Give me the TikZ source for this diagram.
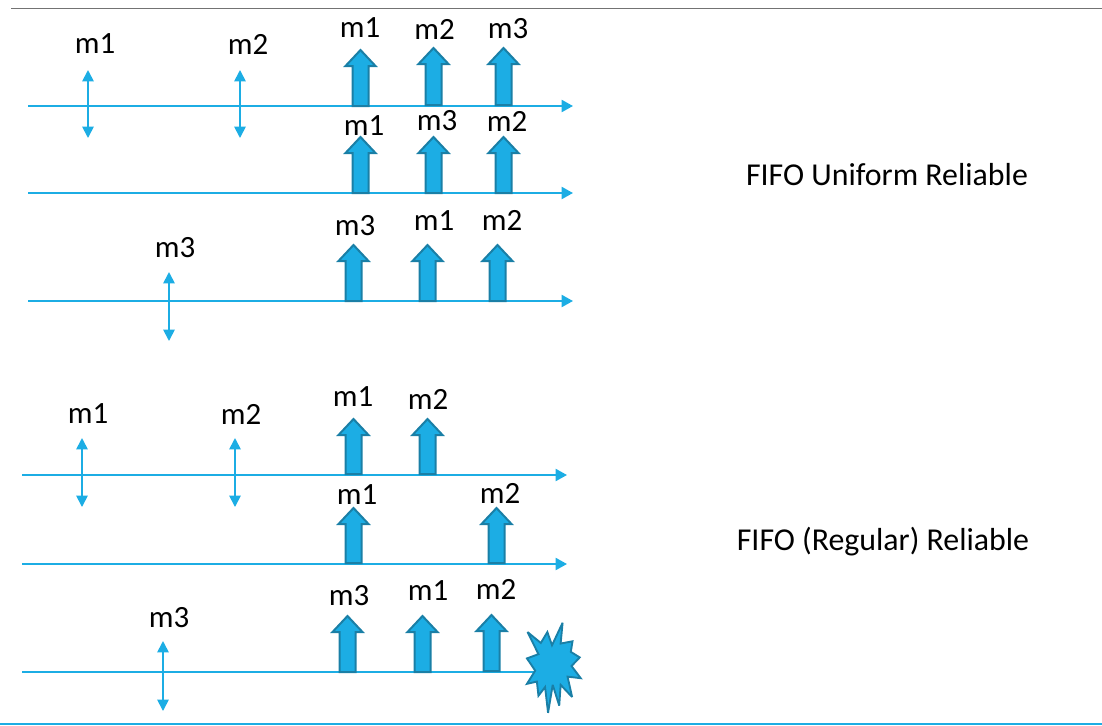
\documentclass[tikz,border=0pt]{standalone}
\usepackage{fontspec}
\setmainfont{Carlito}
\usetikzlibrary{arrows.meta}
\definecolor{cyanb}{HTML}{1CADE4}
\definecolor{cyand}{HTML}{1A7FA6}
\tikzset{
  lbl/.style={inner sep=0pt,font=\fontsize{23.2pt}{26pt}\selectfont,text=black},
  big/.style={inner sep=0pt,font=\fontsize{23.9pt}{26pt}\selectfont,text=black},
  axis/.style={draw=cyanb,line width=1.5pt,-{Triangle[length=8.5pt,width=9pt]}},
  axisplain/.style={draw=cyanb,line width=1.5pt},
  dbl/.style={draw=cyanb,line width=1.3pt,{Triangle[length=8.5pt,width=8.5pt]}-{Triangle[length=8.5pt,width=8.5pt]}},
  fat/.style={draw=cyand,fill=cyanb,line width=1.5pt,line join=miter},
  burst/.style={draw=cyand,fill=cyanb,line width=1.4pt,line join=miter,miter limit=3},
}
% centre x, tip y, base y
\newcommand{\fatarrow}[3]{%
  \draw[fat] (#1-8,#3) -- (#1-8,#2+17) -- (#1-15,#2+17) -- (#1,#2+1) -- (#1+15,#2+17) -- (#1+8,#2+17) -- (#1+8,#3) -- cycle;}
\begin{document}
\begin{tikzpicture}[x=0.75pt,y=-0.75pt]
\useasboundingbox (0,0) rectangle (1102,725);
% frame rules
\coordinate (tl) at (11,8.5); \coordinate (tr) at (1102,8.5);
\coordinate (bl) at (0,724); \coordinate (br) at (1102,724);
\draw[draw=black!55,line width=0.9pt] (tl) -- (tr);
\draw[draw=cyanb,line width=1.5pt] (bl) -- (br);
% timelines
\coordinate (a1s) at (28,106); \coordinate (a1e) at (573,106);
\coordinate (a2s) at (28,193); \coordinate (a2e) at (573,193);
\coordinate (a3s) at (28,301); \coordinate (a3e) at (573,301);
\coordinate (a4s) at (22,475); \coordinate (a4e) at (567,475);
\coordinate (a5s) at (22,564); \coordinate (a5e) at (567,564);
\coordinate (a6s) at (22,672); \coordinate (a6e) at (540,672);
\draw[axis] (a1s) -- (a1e);
\draw[axis] (a2s) -- (a2e);
\draw[axis] (a3s) -- (a3e);
\draw[axis] (a4s) -- (a4e);
\draw[axis] (a5s) -- (a5e);
\draw[axisplain] (a6s) -- (a6e);
% double arrows
\coordinate (d1t) at (88,70); \coordinate (d1b) at (88,138);
\coordinate (d2t) at (240,70); \coordinate (d2b) at (240,138);
\coordinate (d3t) at (169,272); \coordinate (d3b) at (169,341);
\coordinate (d4t) at (82,438); \coordinate (d4b) at (82,507);
\coordinate (d5t) at (235,438); \coordinate (d5b) at (235,507);
\coordinate (d6t) at (163,641); \coordinate (d6b) at (163,711);
\foreach \n in {1,...,6} \draw[dbl] (d\n t) -- (d\n b);
% fat arrows
\fatarrow{360.5}{49}{106}\fatarrow{433.5}{47}{105}\fatarrow{503.5}{47}{105}
\fatarrow{360.5}{136}{193}\fatarrow{433.5}{136}{193}\fatarrow{503.5}{136}{193}
\fatarrow{353.5}{244}{301}\fatarrow{427.5}{244}{301}\fatarrow{497.5}{244}{301}
\fatarrow{353.5}{418}{474}\fatarrow{427.5}{418}{474}
\fatarrow{353.5}{507}{563}\fatarrow{496.5}{507}{563}
\fatarrow{347.5}{615}{672}\fatarrow{422.5}{615}{672}\fatarrow{491.5}{614}{671}
% burst
\draw[burst,shift={(553,668)},scale=.99,shift={(-553,-668)}] (527.3,631.7) -- (540.7,642.7) -- (547.3,631.7) -- (552,645) -- (562.7,622.3) -- (560.7,643.3) -- (572.7,641) -- (571,651.7) -- (580,657.3) -- (571.7,666) -- (581,678.3) -- (567.7,676.7) -- (572.3,697.3) -- (560.7,685) -- (559.3,706) -- (552.7,685) -- (548,713.3) -- (545,687.3) -- (538.3,696) -- (536.7,681.7) -- (526.7,684) -- (535,670.7) -- (526.7,658.3) -- (538.3,654) -- cycle;
% labels
\node[lbl] (l1) at (95,44) {m1};
\node[lbl] (l2) at (248,44) {m2};
\node[lbl] (l3) at (360,28) {m1};
\node[lbl] (l4) at (434.5,29) {m2};
\node[lbl] (l5) at (508,29) {m3};
\node[lbl] (l6) at (364,126) {m1};
\node[lbl] (l7) at (437,121) {m3};
\node[lbl] (l8) at (507,121) {m2};
\node[lbl] (l9) at (175,248) {m3};
\node[lbl] (l10) at (355,226) {m3};
\node[lbl] (l11) at (434,221) {m1};
\node[lbl] (l12) at (502,220) {m2};
\node[lbl] (l13) at (88,414) {m1};
\node[lbl] (l14) at (241,414) {m2};
\node[lbl] (l15) at (353,397) {m1};
\node[lbl] (l16) at (428,399) {m2};
\node[lbl] (l17) at (357,495) {m1};
\node[lbl] (l18) at (500,493) {m2};
\node[lbl] (l19) at (169,618) {m3};
\node[lbl] (l20) at (349,596) {m3};
\node[lbl] (l21) at (428,591) {m1};
\node[lbl] (l22) at (496,589) {m2};
\node[big] (t1) at (887,174.5) {FIFO Uniform Reliable};
\node[big] (t2) at (883,542) {FIFO (Regular) Reliable};
\end{tikzpicture}
\end{document}
